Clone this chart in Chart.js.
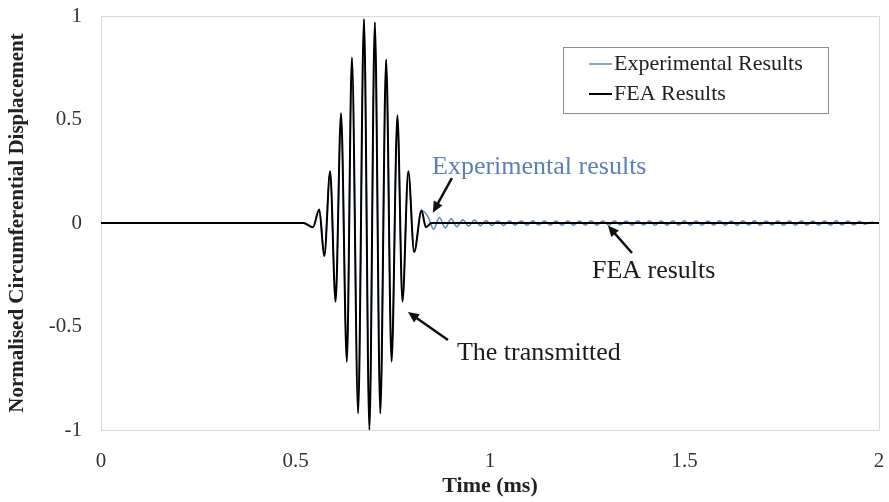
<!DOCTYPE html>
<html lang="en">
  <head>
    <meta charset="utf-8" />
    <style>
      html, body { margin: 0; padding: 0; background: #fff; }
      .chart { width: 889px; height: 502px; position: relative; }
    </style>
  </head>
  <body>
    <div class="chart">
      <canvas id="myChart"></canvas>
    </div>

    <script src="https://cdn.jsdelivr.net/npm/chart.js@4/dist/chart.umd.min.js"></script>
    <script>
      var feaTime = [0, 0.52, 0.545, 0.561, 0.574, 0.589, 0.603, 0.617, 0.632, 0.645, 0.661, 0.676,
        0.690, 0.704, 0.718, 0.733, 0.747, 0.762, 0.775, 0.790, 0.805, 0.824, 0.835, 0.85, 2.0];
      var feaValue = [0, 0, -0.02, 0.065, -0.16, 0.25, -0.38, 0.53, -0.67, 0.8, -0.92, 0.985,
        -1.0, 0.97, -0.92, 0.79, -0.67, 0.52, -0.38, 0.25, -0.14, 0.06, -0.02, 0, 0];

      // experimental trace: same burst (hidden under the black line) then a small ringing tail
      var expTime = [0, 0.52, 0.545, 0.561, 0.574, 0.589, 0.603, 0.617, 0.632, 0.645, 0.661, 0.676,
        0.690, 0.704, 0.718, 0.733, 0.747, 0.762, 0.775, 0.790, 0.805, 0.824];
      var expValue = [0, 0, -0.02, 0.065, -0.16, 0.25, -0.38, 0.53, -0.67, 0.8, -0.92, 0.985,
        -1.0, 0.97, -0.92, 0.79, -0.67, 0.52, -0.38, 0.25, -0.14, 0.06];
      var expTailTime = [0.840, 0.855, 0.870, 0.885, 0.900, 0.915, 0.930, 0.945, 0.960, 0.975,
        0.990, 1.005, 1.020, 1.035, 1.050, 1.065, 1.080, 1.095, 1.110, 1.125,
        1.140, 1.155, 1.170, 1.185, 1.200, 1.215, 1.230, 1.245, 1.260, 1.275,
        1.290, 1.305, 1.320, 1.335, 1.350, 1.365, 1.380, 1.395, 1.410, 1.425,
        1.440, 1.455, 1.470, 1.485, 1.500, 1.515, 1.530, 1.545, 1.560, 1.575,
        1.590, 1.605, 1.620, 1.635, 1.650, 1.665, 1.680, 1.695, 1.710, 1.725,
        1.740, 1.755, 1.770, 1.785, 1.800, 1.815, 1.830, 1.845, 1.860, 1.875,
        1.890, 1.905, 1.920, 1.935, 1.950, 1.965, 1.980, 2.000];
      var expTailValue = [0.032, -0.03, 0.026, -0.024, 0.02, -0.018, 0.016, -0.015, 0.014, -0.013,
        0.012, -0.012, 0.011, -0.012, 0.011, -0.011, 0.01, -0.011, 0.011, -0.01,
        0.01, -0.011, 0.01, -0.011, 0.011, -0.011, 0.01, -0.01, 0.011, -0.011,
        0.01, -0.011, 0.011, -0.01, 0.01, -0.011, 0.011, -0.01, 0.011, -0.011,
        0.01, -0.011, 0.011, -0.01, 0.011, -0.011, 0.01, -0.011, 0.01, -0.01,
        0.011, -0.011, 0.01, -0.011, 0.011, -0.01, 0.011, -0.011, 0.01, -0.01,
        0.011, -0.011, 0.01, -0.011, 0.011, -0.01, 0.01, -0.011, 0.01, -0.011,
        0.011, -0.01, 0.01, -0.01, 0.008, -0.006, 0.004, 0];

      var xTicks = [0, 0.5, 1, 1.5, 2];
      var yTicks = [-1, -0.5, 0, 0.5, 1];
      var seriesLabels = ["Experimental Results", "FEA Results"];

      // callouts: [text, text x, text y, arrow tail x, tail y, head x, head y, colour]
      var callouts = [
        ["Experimental results", 0.851, 0.272, 0.902, 0.217, 0.853, 0.05, "#5b80b6"],
        ["FEA results", 1.262, -0.232, 1.365, -0.145, 1.303, -0.012, "#1a1a1a"],
        ["The transmitted", 0.915, -0.628, 0.892, -0.565, 0.789, -0.43, "#1a1a1a"],
      ];

      var SERIF = "'Liberation Serif', 'Times New Roman', serif";
      var BLUE = "#5b87c0";

      function toPoints(xs, ys) {
        return xs.map(function (x, i) { return { x: x, y: ys[i] }; });
      }

      function arrow(ctx, x1, y1, x2, y2) {
        var a = Math.atan2(y2 - y1, x2 - x1);
        var hl = 11, hw = 5;
        ctx.beginPath();
        ctx.moveTo(x1, y1);
        ctx.lineTo(x2 - Math.cos(a) * hl * 0.8, y2 - Math.sin(a) * hl * 0.8);
        ctx.stroke();
        ctx.beginPath();
        ctx.moveTo(x2, y2);
        ctx.lineTo(x2 - Math.cos(a) * hl + Math.sin(a) * hw, y2 - Math.sin(a) * hl - Math.cos(a) * hw);
        ctx.lineTo(x2 - Math.cos(a) * hl - Math.sin(a) * hw, y2 - Math.sin(a) * hl + Math.cos(a) * hw);
        ctx.closePath();
        ctx.fill();
      }

      var frame = {
        id: "frame",
        beforeDatasetsDraw: function (chart) {
          var ca = chart.chartArea, ctx = chart.ctx;
          ctx.save();
          ctx.strokeStyle = "#d9d9d9";
          ctx.lineWidth = 1;
          ctx.strokeRect(ca.left + 0.5, ca.top + 0.5, ca.right - ca.left, ca.bottom - ca.top);
          ctx.restore();
        },
        afterDatasetsDraw: function (chart) {
          var ctx = chart.ctx, xs = chart.scales.x, ys = chart.scales.y;
          ctx.save();
          // callouts
          callouts.forEach(function (c) {
            ctx.font = "26px " + SERIF;
            ctx.fillStyle = c[7];
            ctx.textBaseline = "middle";
            ctx.textAlign = "left";
            ctx.fillText(c[0], xs.getPixelForValue(c[1]), ys.getPixelForValue(c[2]));
            ctx.strokeStyle = "#111";
            ctx.fillStyle = "#111";
            ctx.lineWidth = 2.5;
            arrow(ctx, xs.getPixelForValue(c[3]), ys.getPixelForValue(c[4]),
              xs.getPixelForValue(c[5]), ys.getPixelForValue(c[6]));
          });
          // legend box
          var bx = 563, by = 47, bw = 265, bh = 66;
          ctx.fillStyle = "#fff";
          ctx.fillRect(bx, by, bw, bh);
          ctx.strokeStyle = "#8c8c8c";
          ctx.lineWidth = 1;
          ctx.strokeRect(bx + 0.5, by + 0.5, bw, bh);
          var colors = [BLUE, "#000"];
          seriesLabels.forEach(function (label, i) {
            var y = by + 17 + i * 30;
            ctx.strokeStyle = colors[i];
            ctx.lineWidth = i === 0 ? 1.5 : 2;
            ctx.beginPath();
            ctx.moveTo(589, y);
            ctx.lineTo(612, y);
            ctx.stroke();
            ctx.fillStyle = "#222";
            ctx.font = "22px " + SERIF;
            ctx.textBaseline = "middle";
            ctx.fillText(label, 614, y);
          });
          ctx.restore();
        },
      };

      var ctx = document.getElementById("myChart");
      new Chart(ctx, {
        type: "line",
        data: {
          datasets: [
            {
              label: seriesLabels[0],
              data: toPoints(expTime.concat(expTailTime), expValue.concat(expTailValue)),
              borderColor: BLUE,
              borderWidth: 1.5,
              pointRadius: 0,
              cubicInterpolationMode: "monotone",
              order: 1,
            },
            {
              label: seriesLabels[1],
              data: toPoints(feaTime, feaValue),
              borderColor: "#000",
              borderWidth: 2,
              pointRadius: 0,
              cubicInterpolationMode: "monotone",
              order: 0,
            },
          ],
        },
        options: {
          animation: false,
          responsive: true,
          maintainAspectRatio: false,
          layout: { padding: { top: 16, right: 10, left: 0, bottom: 0 } },
          plugins: { legend: { display: false }, tooltip: { enabled: false } },
          scales: {
            x: {
              type: "linear",
              min: 0,
              max: 2,
              afterBuildTicks: function (scale) {
                scale.ticks = xTicks.map(function (v) { return { value: v }; });
              },
              afterFit: function (scale) {
                scale.height = 72;
                scale.paddingLeft = 0;
                scale.paddingRight = 0;
              },
              grid: { display: false },
              border: { display: false },
              ticks: {
                padding: 11,
                color: "#333",
                font: { family: SERIF, size: 21 },
                maxRotation: 0,
                callback: function (v) { return String(v); },
              },
              title: {
                display: true,
                text: "Time (ms)",
                color: "#222",
                font: { family: SERIF, size: 22, weight: "bold" },
                padding: { top: 0, bottom: 2 },
              },
            },
            y: {
              type: "linear",
              min: -1,
              max: 1,
              afterBuildTicks: function (scale) {
                scale.ticks = yTicks.map(function (v) { return { value: v }; });
              },
              afterFit: function (scale) {
                scale.width = 101;
                scale.paddingTop = 0;
                scale.paddingBottom = 0;
              },
              grid: { display: false },
              border: { display: false },
              ticks: {
                padding: 11,
                color: "#333",
                font: { family: SERIF, size: 21 },
                callback: function (v) { return String(v); },
              },
              title: {
                display: true,
                text: "Normalised Circumferential Displacement",
                color: "#222",
                font: { family: SERIF, size: 21, weight: "bold" },
                padding: { top: 5, bottom: 0 },
              },
            },
          },
        },
        plugins: [frame],
      });
    </script>
  </body>
</html>
